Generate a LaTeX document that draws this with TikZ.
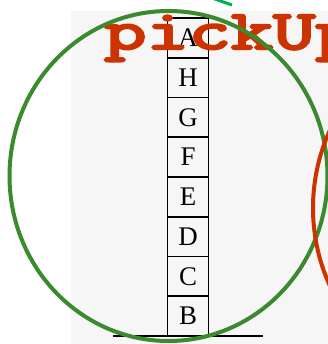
\documentclass[tikz,border=0pt]{standalone}
\usepackage{fontspec}
\setmainfont{Liberation Serif}
\newfontfamily\actionfont{Latin Modern Mono}[FakeBold=4]
\usetikzlibrary{positioning}
\definecolor{scangray}{HTML}{F6F6F6}
\definecolor{ringgreen}{HTML}{3B8A2F}
\definecolor{ringred}{HTML}{CC3300}
\definecolor{pointgreen}{HTML}{00B050}
\tikzset{
  block/.style={
    draw=black,
    line width=1.6bp,
    minimum width=41bp,
    minimum height=39.75bp,
    inner sep=0pt,
    outer sep=0pt,
    font=\fontsize{27}{27}\selectfont
  },
  ring/.style={
    line width=4bp
  },
  action/.style={
    font=\actionfont\fontsize{56}{56}\selectfont,
    text=ringred,
    inner sep=0pt
  }
}
\begin{document}
\begin{tikzpicture}[x=1bp,y=-1bp]

\useasboundingbox (0,0) rectangle (328,344);
\clip (0,0) rectangle (328,344);
\fill[white] (0,0) rectangle (328,344);
\fill[scangray] (71,11) rectangle (328,344);

% stack of blocks, top to bottom
\node[block, anchor=north] (blockA) at (188,18) {A};
\foreach \name [remember=\name as \prev (initially A)] in {H,G,F,E,D,C,B}
  \node[block, below=0pt of block\prev] (block\name) {\name};

\coordinate (tableL) at (113,336);
\coordinate (tableR) at (263,336);
\draw[line width=1.6bp] (tableL) -- (tableR);

\node[action, anchor=base west] (pickup) at (104,49) {\scalebox{1.47}[1]{pickUp}};

\draw[ring, ringgreen] (168.5,176) ellipse [x radius=159, y radius=165];
\draw[ring, ringred] (500,208) circle [radius=187];

\coordinate (pointS) at (212,-2);
\coordinate (pointE) at (232,5);
\draw[line width=3bp, pointgreen] (pointS) -- (pointE);

\end{tikzpicture}
\end{document}
